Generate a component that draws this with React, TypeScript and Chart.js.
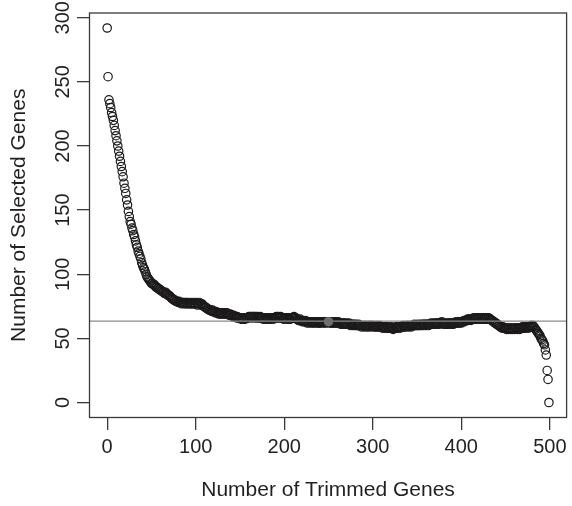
import React, { useEffect, useRef } from "react";
import { Chart, registerables } from "chart.js";

Chart.register(...registerables);

// Number of selected genes, one value per number of trimmed genes (0, 1, 2, ...)
const selectedGenes: number[] = [
  292, 254, 236, 233, 230, 226, 223, 220, 216, 212,
  208, 204, 200, 196, 192, 188, 184, 180, 176, 171,
  167, 163, 158, 154, 149, 145, 141, 139, 136, 134,
  131, 129, 126, 123, 121, 118, 116, 114, 112, 109,
  107, 105, 104, 102, 100, 98, 97, 96, 95, 94,
  93, 93, 92, 92, 91, 90, 90, 89, 89, 88,
  88, 87, 87, 86, 86, 85, 86, 85, 84, 84,
  83, 83, 82, 81, 81, 80, 80, 79, 79, 79,
  78, 79, 78, 78, 77, 78, 78, 77, 78, 77,
  78, 77, 78, 77, 77, 78, 77, 77, 78, 77,
  77, 78, 76, 77, 78, 77, 76, 77, 76, 75,
  75, 74, 74, 73, 73, 72, 72, 72, 71, 72,
  71, 71, 70, 71, 70, 70, 69, 70, 69, 70,
  69, 70, 69, 69, 70, 70, 69, 69, 68, 69,
  68, 68, 67, 68, 67, 67, 66, 67, 66, 66,
  66, 65, 66, 65, 65, 66, 65, 66, 66, 66,
  67, 66, 67, 67, 66, 67, 67, 66, 67, 66,
  67, 66, 66, 67, 66, 66, 65, 66, 65, 66,
  65, 66, 65, 65, 66, 65, 66, 66, 65, 66,
  66, 67, 66, 67, 66, 66, 67, 66, 66, 65,
  66, 65, 66, 66, 65, 66, 65, 65, 66, 66,
  66, 67, 66, 66, 65, 65, 64, 64, 65, 64,
  63, 64, 63, 63, 64, 63, 62, 63, 63, 62,
  63, 63, 62, 63, 62, 63, 63, 62, 63, 62,
  62, 63, 62, 63, 63, 62, 63, 62, 63, 63,
  63, 62, 63, 62, 62, 63, 62, 62, 63, 62,
  62, 63, 62, 62, 61, 62, 62, 61, 62, 61,
  62, 61, 61, 62, 61, 60, 61, 61, 60, 61,
  60, 61, 60, 60, 61, 60, 60, 59, 60, 60,
  59, 60, 60, 59, 60, 59, 60, 60, 59, 60,
  60, 59, 60, 59, 59, 60, 59, 59, 60, 59,
  59, 58, 59, 59, 58, 59, 58, 59, 58, 58,
  58, 59, 58, 57, 58, 58, 59, 58, 58, 59,
  59, 58, 59, 59, 60, 59, 59, 60, 59, 60,
  60, 59, 60, 60, 59, 60, 60, 61, 60, 60,
  60, 61, 60, 60, 61, 60, 61, 60, 61, 61,
  60, 61, 61, 60, 61, 61, 62, 61, 61, 62,
  61, 62, 61, 62, 62, 61, 62, 62, 63, 62,
  61, 62, 61, 61, 62, 61, 62, 62, 61, 62,
  62, 61, 62, 62, 63, 62, 62, 63, 62, 63,
  62, 63, 63, 64, 63, 64, 64, 65, 64, 65,
  65, 64, 65, 65, 66, 65, 65, 66, 65, 66,
  65, 66, 65, 65, 66, 65, 66, 65, 65, 66,
  65, 66, 65, 65, 64, 64, 63, 63, 62, 62,
  61, 61, 60, 60, 59, 59, 58, 59, 58, 58,
  58, 57, 58, 57, 58, 58, 57, 58, 57, 58,
  57, 58, 58, 57, 58, 58, 57, 58, 58, 59,
  58, 58, 59, 58, 59, 59, 58, 59, 59, 60,
  59, 60, 59, 58, 57, 56, 55, 54, 53, 52,
  50, 49, 48, 46, 45, 41, 37, 25, 18, 0,
];

// Highlighted point and reference line
const highlightTrimmed: number[] = [250];
const highlightSelected: number[] = [63];
const referenceLevel: number = 63.5;

const xTickValues: number[] = [0, 100, 200, 300, 400, 500];
const yTickValues: number[] = [0, 50, 100, 150, 200, 250, 300];

const xTitle = "Number of Trimmed Genes";
const yTitle = "Number of Selected Genes";

export default function App() {
  const canvasRef = useRef<HTMLCanvasElement | null>(null);

  useEffect(() => {
    const canvas = canvasRef.current;
    if (!canvas) return;

    const n = selectedGenes.length;
    const points = selectedGenes.map((v, i) => ({ x: i, y: v }));
    const xMaxData = n - 1;
    const yMaxData = Math.max(...selectedGenes);
    const yMinData = Math.min(...selectedGenes);
    // R-style 4% axis extension
    const xMin = 0 - xMaxData * 0.04;
    const xMax = xMaxData + xMaxData * 0.04;
    const yMin = yMinData - (yMaxData - yMinData) * 0.04;
    const yMax = yMaxData + (yMaxData - yMinData) * 0.04;

    const fontFamily = "'Liberation Sans', Arial, Helvetica, sans-serif";
    const textColor = "#231f20";
    const axisColor = "#3a3a3a";

    const boxPlugin = {
      id: "rBox",
      afterDatasetsDraw(chart: any) {
        const { ctx, chartArea } = chart;
        const { left, top, right, bottom } = chartArea;
        ctx.save();
        ctx.strokeStyle = axisColor;
        ctx.lineWidth = 1.3;
        ctx.strokeRect(left, top, right - left, bottom - top);
        ctx.restore();
      },
    };

    const chart = new Chart(canvas, {
      type: "scatter",
      data: {
        datasets: [
          {
            type: "scatter",
            data: highlightTrimmed.map((x, i) => ({ x, y: highlightSelected[i] })),
            pointRadius: 4.8,
            pointBackgroundColor: "#6d6e71",
            pointBorderColor: "#6d6e71",
            pointBorderWidth: 0,
            order: 0,
          } as any,
          {
            type: "line",
            data: [
              { x: xMin, y: referenceLevel },
              { x: xMax, y: referenceLevel },
            ],
            borderColor: "#8a8a8a",
            borderWidth: 1.3,
            pointRadius: 0,
            fill: false,
            order: 1,
          } as any,
          {
            type: "scatter",
            data: points,
            pointRadius: 4.2,
            pointBorderWidth: 1.2,
            pointBorderColor: "#1c1a1b",
            pointBackgroundColor: "rgba(0,0,0,0)",
            order: 2,
          } as any,
        ],
      },
      options: {
        responsive: false,
        animation: false,
        events: [],
        devicePixelRatio: 1,
        layout: { padding: { left: 0, right: 1.5, top: 13, bottom: 0 } },
        plugins: {
          legend: { display: false },
          tooltip: { enabled: false },
        },
        scales: {
          x: {
            type: "linear",
            min: xMin,
            max: xMax,
            afterFit: (s: any) => {
              s.height = 88.5;
            },
            afterBuildTicks: (s: any) => {
              s.ticks = xTickValues.map((v) => ({ value: v }));
            },
            ticks: {
              autoSkip: false,
              maxRotation: 0,
              minRotation: 0,
              includeBounds: false,
              padding: 5,
              color: textColor,
              font: { family: fontFamily, size: 20 },
              callback: (v: any) => String(v),
            },
            grid: {
              drawOnChartArea: false,
              drawTicks: true,
              tickLength: 12.5,
              color: axisColor,
              lineWidth: 1.3,
            },
            border: { display: false },
            title: {
              display: true,
              text: xTitle,
              color: textColor,
              font: { family: fontFamily, size: 21 },
              padding: { top: 0, bottom: 3 },
            },
          },
          y: {
            type: "linear",
            min: yMin,
            max: yMax,
            afterFit: (s: any) => {
              s.width = 89.5;
            },
            afterBuildTicks: (s: any) => {
              s.ticks = yTickValues.map((v) => ({ value: v }));
            },
            ticks: {
              autoSkip: false,
              minRotation: 90,
              maxRotation: 90,
              includeBounds: false,
              crossAlign: "center",
              padding: -3,
              color: textColor,
              font: { family: fontFamily, size: 20 },
              callback: (v: any) => String(v),
            },
            grid: {
              drawOnChartArea: false,
              drawTicks: true,
              tickLength: 12.5,
              color: axisColor,
              lineWidth: 1.3,
            },
            border: { display: false },
            title: {
              display: true,
              text: yTitle,
              color: textColor,
              font: { family: fontFamily, size: 21 },
              padding: { top: 7, bottom: 0 },
            },
          },
        },
      },
      plugins: [boxPlugin],
    } as any);

    return () => {
      chart.destroy();
    };
  }, []);

  return (
    <div style={{ position: "fixed", left: 0, top: 0, width: 572, height: 506, background: "#fff" }}>
      <canvas ref={canvasRef} width={572} height={506} style={{ display: "block", width: 572, height: 506 }} />
    </div>
  );
}
